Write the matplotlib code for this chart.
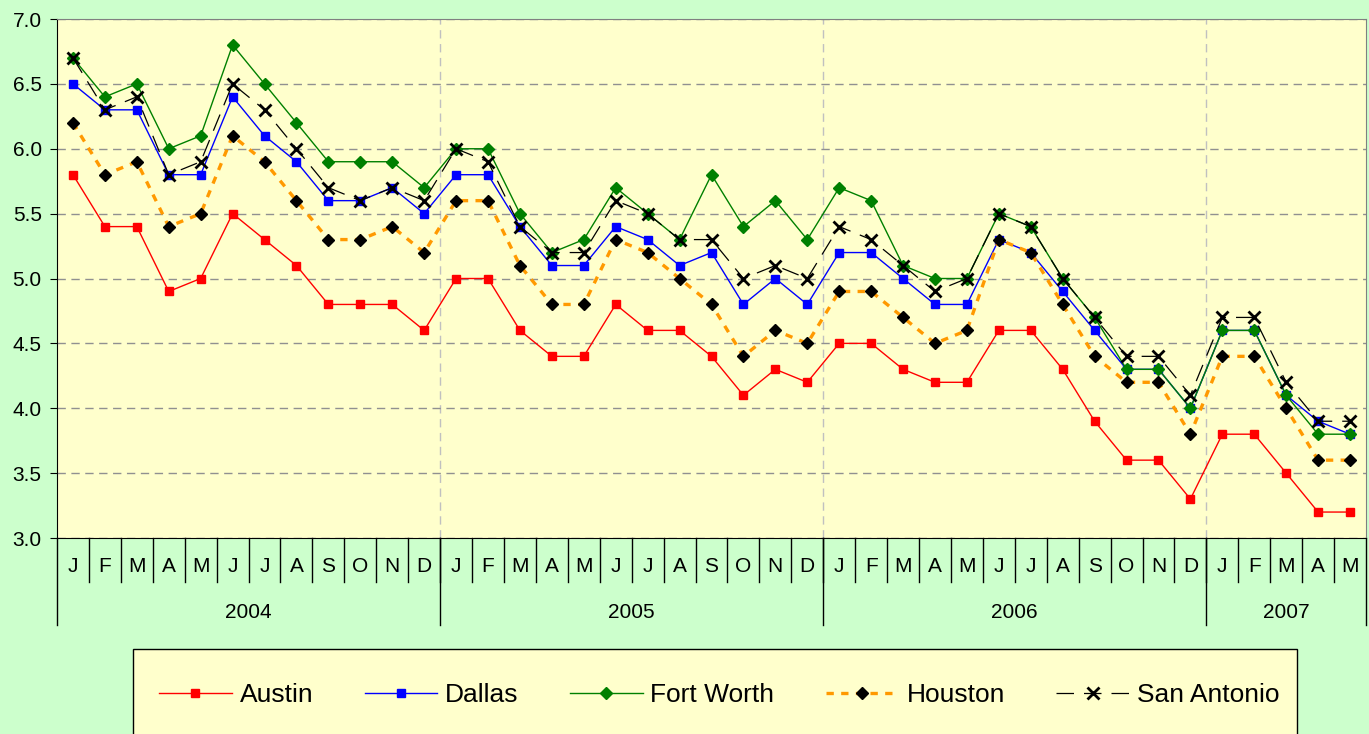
import matplotlib
matplotlib.use("Agg")
import matplotlib.pyplot as plt
from matplotlib.patches import Rectangle
from matplotlib.ticker import MultipleLocator, FormatStrFormatter

plt.rcParams['font.family'] = ['Liberation Sans', 'DejaVu Sans']

# Daten: monatlich Jan 2004 - Mai 2007
months = ["J", "F", "M", "A", "M", "J", "J", "A", "S", "O", "N", "D"] * 3 + ["J", "F", "M", "A", "M"]
years = ["2004", "2005", "2006", "2007"]
year_counts = [12, 12, 12, 5]

austin = [5.8, 5.4, 5.4, 4.9, 5.0, 5.5, 5.3, 5.1, 4.8, 4.8, 4.8, 4.6,
          5.0, 5.0, 4.6, 4.4, 4.4, 4.8, 4.6, 4.6, 4.4, 4.1, 4.3, 4.2,
          4.5, 4.5, 4.3, 4.2, 4.2, 4.6, 4.6, 4.3, 3.9, 3.6, 3.6, 3.3,
          3.8, 3.8, 3.5, 3.2, 3.2]
dallas = [6.5, 6.3, 6.3, 5.8, 5.8, 6.4, 6.1, 5.9, 5.6, 5.6, 5.7, 5.5,
          5.8, 5.8, 5.4, 5.1, 5.1, 5.4, 5.3, 5.1, 5.2, 4.8, 5.0, 4.8,
          5.2, 5.2, 5.0, 4.8, 4.8, 5.3, 5.2, 4.9, 4.6, 4.3, 4.3, 4.0,
          4.6, 4.6, 4.1, 3.9, 3.8]
fort_worth = [6.7, 6.4, 6.5, 6.0, 6.1, 6.8, 6.5, 6.2, 5.9, 5.9, 5.9, 5.7,
              6.0, 6.0, 5.5, 5.2, 5.3, 5.7, 5.5, 5.3, 5.8, 5.4, 5.6, 5.3,
              5.7, 5.6, 5.1, 5.0, 5.0, 5.5, 5.4, 5.0, 4.7, 4.3, 4.3, 4.0,
              4.6, 4.6, 4.1, 3.8, 3.8]
houston = [6.2, 5.8, 5.9, 5.4, 5.5, 6.1, 5.9, 5.6, 5.3, 5.3, 5.4, 5.2,
           5.6, 5.6, 5.1, 4.8, 4.8, 5.3, 5.2, 5.0, 4.8, 4.4, 4.6, 4.5,
           4.9, 4.9, 4.7, 4.5, 4.6, 5.3, 5.2, 4.8, 4.4, 4.2, 4.2, 3.8,
           4.4, 4.4, 4.0, 3.6, 3.6]
san_antonio = [6.7, 6.3, 6.4, 5.8, 5.9, 6.5, 6.3, 6.0, 5.7, 5.6, 5.7, 5.6,
               6.0, 5.9, 5.4, 5.2, 5.2, 5.6, 5.5, 5.3, 5.3, 5.0, 5.1, 5.0,
               5.4, 5.3, 5.1, 4.9, 5.0, 5.5, 5.4, 5.0, 4.7, 4.4, 4.4, 4.1,
               4.7, 4.7, 4.2, 3.9, 3.9]

x = list(range(len(months)))

fig = plt.figure(figsize=(13.69, 7.34), dpi=100, facecolor="#CCFFCC")
ax = fig.add_axes([57 / 1369, 196 / 734, 1309 / 1369, 519 / 734])
ax.set_facecolor("#FFFFCC")

# Linien
ax.plot(x, austin, color="#FF0000", lw=1, marker="s", ms=6, label="Austin")
ax.plot(x, dallas, color="#0000FF", lw=1, marker="s", ms=6, label="Dallas")
ax.plot(x, fort_worth, color="#008000", lw=1, marker="D", ms=6.5, label="Fort Worth")
ax.plot(x, houston, color="#FF9900", lw=2.4, ls=(0, (2.2, 2.2)), marker="D", ms=6.5,
        mfc="black", mec="black", label="Houston")
ax.plot(x, san_antonio, color="black", lw=0.9, ls=(0, (14, 8)), marker="x", ms=8,
        mew=2, label="San Antonio")

ax.set_xlim(-0.5, len(months) - 0.5)
ax.set_ylim(3.0, 7.0)
ax.yaxis.set_major_locator(MultipleLocator(0.5))
ax.yaxis.set_major_formatter(FormatStrFormatter("%.1f"))
ax.tick_params(axis="y", labelsize=15, length=5, direction="out", pad=6)
ax.grid(axis="y", color="#909090", ls=(0, (6, 4)), lw=1)
ax.set_axisbelow(True)

# Spines
ax.spines["top"].set_color("#808080")
ax.spines["right"].set_color("#808080")
ax.spines["left"].set_color("black")
ax.spines["bottom"].set_color("black")

# Kategorie-Achse mit Monaten und Jahren
ax.set_xticks([])
tr = ax.get_xaxis_transform()
for i, m in enumerate(months):
    ax.text(i, -0.054, m, transform=tr, ha="center", va="center", fontsize=15)
    if i > 0:
        ax.plot([i - 0.5, i - 0.5], [0, -0.085], transform=tr, color="black", lw=1, clip_on=False)

start = 0
for yr, n in zip(years, year_counts):
    ax.text(start + (n - 1) / 2, -0.143, yr, transform=tr, ha="center", va="center", fontsize=15)
    ax.plot([start - 0.5, start - 0.5], [0, -0.168], transform=tr, color="black", lw=1, clip_on=False)
    if start > 0:
        ax.axvline(start - 0.5, color="#C0C0C0", ls=(0, (6, 4)), lw=1, zorder=0.5)
    start += n
ax.plot([start - 0.5, start - 0.5], [0, -0.168], transform=tr, color="black", lw=1, clip_on=False)

# Legendenkasten (reicht bis unter den Bildrand)
box = Rectangle((133 / 1369, -0.05), (1297 - 133) / 1369, 0.05 + 85 / 734,
                transform=fig.transFigure, facecolor="#FFFFCC", edgecolor="black",
                lw=1, zorder=0)
fig.patches.append(box)

leg = fig.legend(loc="center left", bbox_to_anchor=(159 / 1369, 1 - 695 / 734), ncol=5,
                 fontsize=19, frameon=False, borderpad=0,
                 handlelength=2.75, handletextpad=0.3, columnspacing=1.95,
                 borderaxespad=0)

fig.savefig("out.png", dpi=100, facecolor=fig.get_facecolor())
